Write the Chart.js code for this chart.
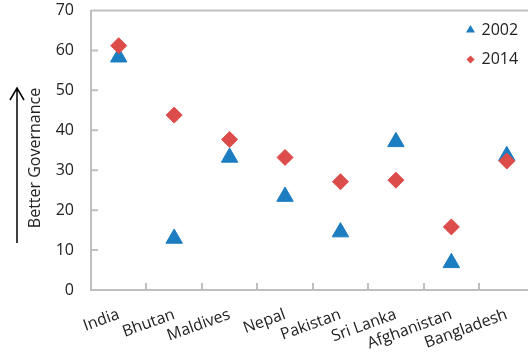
<!DOCTYPE html>
<html lang="en">
<head>
<meta charset="UTF-8">
<title>Better Governance</title>
<script src="https://cdn.jsdelivr.net/npm/chart.js"></script>
<style>
    html, body { margin: 0; padding: 0; background: #fff; overflow: hidden; }
    #wrap { width: 545px; height: 358px; }
</style>
</head>
<body>
<div id="wrap"><canvas id="govChart" width="545" height="358"></canvas></div>
<script>
const countries = ['India', 'Bhutan', 'Maldives', 'Nepal', 'Pakistan', 'Sri Lanka', 'Afghanistan', 'Bangladesh'];
const scores2002 = [58.3, 12.9, 33.2, 23.4, 14.5, 37.1, 6.8, 33.6];
const scores2014 = [61.2, 43.8, 37.7, 33.2, 27.1, 27.5, 15.8, 32.3];
const seriesNames = ['2002', '2014'];
const yMin = 0, yMax = 70, yStep = 10;

const BLUE = '#1c7dc1';
const RED = '#dc4c4b';
const AXIS = '#bfbfbf';
const TEXT = '#222222';
const FONT = "'Open Sans', sans-serif";

// extra drawing: inward ticks, top border, legend, axis caption with arrow
const decorations = {
    id: 'decorations',
    afterDraw(chart) {
        const { ctx, chartArea: area, scales: { x, y } } = chart;
        ctx.save();

        ctx.strokeStyle = AXIS;
        ctx.lineWidth = 2;
        ctx.beginPath();
        ctx.moveTo(area.left, area.top);
        ctx.lineTo(area.right, area.top);
        y.ticks.forEach(t => {
            const py = y.getPixelForValue(t.value);
            ctx.moveTo(area.left, py);
            ctx.lineTo(area.left + 7, py);
        });
        for (let i = 1; i < countries.length; i++) {
            const px = Math.round((x.getPixelForValue(i - 1) + x.getPixelForValue(i)) / 2);
            ctx.moveTo(px, area.bottom);
            ctx.lineTo(px, area.bottom - 7);
        }
        ctx.stroke();

        // legend
        const lx = area.right - 64;
        ctx.fillStyle = BLUE;
        ctx.beginPath();
        ctx.moveTo(lx, 25);
        ctx.lineTo(lx + 4.5, 32.5);
        ctx.lineTo(lx - 4.5, 32.5);
        ctx.closePath();
        ctx.fill();
        ctx.fillStyle = RED;
        ctx.beginPath();
        ctx.moveTo(lx, 55.5);
        ctx.lineTo(lx + 4, 59.5);
        ctx.lineTo(lx, 63.5);
        ctx.lineTo(lx - 4, 59.5);
        ctx.closePath();
        ctx.fill();
        ctx.fillStyle = TEXT;
        ctx.font = '16px ' + FONT;
        ctx.textAlign = 'left';
        ctx.textBaseline = 'middle';
        ctx.fillText(seriesNames[0], lx + 11, 30);
        ctx.fillText(seriesNames[1], lx + 11, 59.5);

        // y caption and arrow
        ctx.save();
        ctx.translate(35, 158);
        ctx.rotate(-Math.PI / 2);
        ctx.textAlign = 'center';
        ctx.font = '16px ' + FONT;
        ctx.fillText('Better Governance', 0, 0);
        ctx.restore();

        ctx.strokeStyle = '#000';
        ctx.lineWidth = 1.5;
        ctx.beginPath();
        ctx.moveTo(17, 243);
        ctx.lineTo(17, 88);
        ctx.moveTo(10, 100);
        ctx.lineTo(17, 88);
        ctx.lineTo(24, 100);
        ctx.stroke();

        ctx.restore();
    }
};

new Chart(document.getElementById('govChart'), {
    type: 'line',
    data: {
        labels: countries,
        datasets: [
            {
                label: seriesNames[0],
                data: scores2002,
                showLine: false,
                pointStyle: 'triangle',
                pointRadius: 9.5,
                pointBackgroundColor: BLUE,
                pointBorderColor: BLUE,
                pointBorderWidth: 1,
                order: 1
            },
            {
                label: seriesNames[1],
                data: scores2014,
                showLine: false,
                pointStyle: 'rectRot',
                pointRadius: 8,
                pointBackgroundColor: RED,
                pointBorderColor: RED,
                pointBorderWidth: 1,
                order: 0
            }
        ]
    },
    options: {
        responsive: false,
        animation: false,
        layout: { padding: { top: 8, right: 9, left: 0, bottom: 0 } },
        plugins: {
            legend: { display: false },
            tooltip: { enabled: false }
        },
        scales: {
            x: {
                offset: true,
                grid: { display: false, drawTicks: false },
                border: { color: AXIS, width: 2 },
                ticks: {
                    autoSkip: false,
                    maxRotation: 20,
                    minRotation: 20,
                    padding: 15,
                    color: TEXT,
                    font: { family: FONT, size: 16 }
                },
                afterFit(scale) {
                    scale.height = 68;
                    scale.paddingLeft = 0;
                    scale.paddingRight = 0;
                }
            },
            y: {
                min: yMin,
                max: yMax,
                grid: { display: false, drawTicks: false },
                border: { color: AXIS, width: 2 },
                ticks: {
                    stepSize: yStep,
                    padding: 17,
                    color: TEXT,
                    font: { family: FONT, size: 16 }
                },
                afterFit(scale) {
                    scale.width = 91;
                    scale.paddingTop = 0;
                    scale.paddingBottom = 0;
                }
            }
        }
    },
    plugins: [decorations]
});
</script>
</body>
</html>
